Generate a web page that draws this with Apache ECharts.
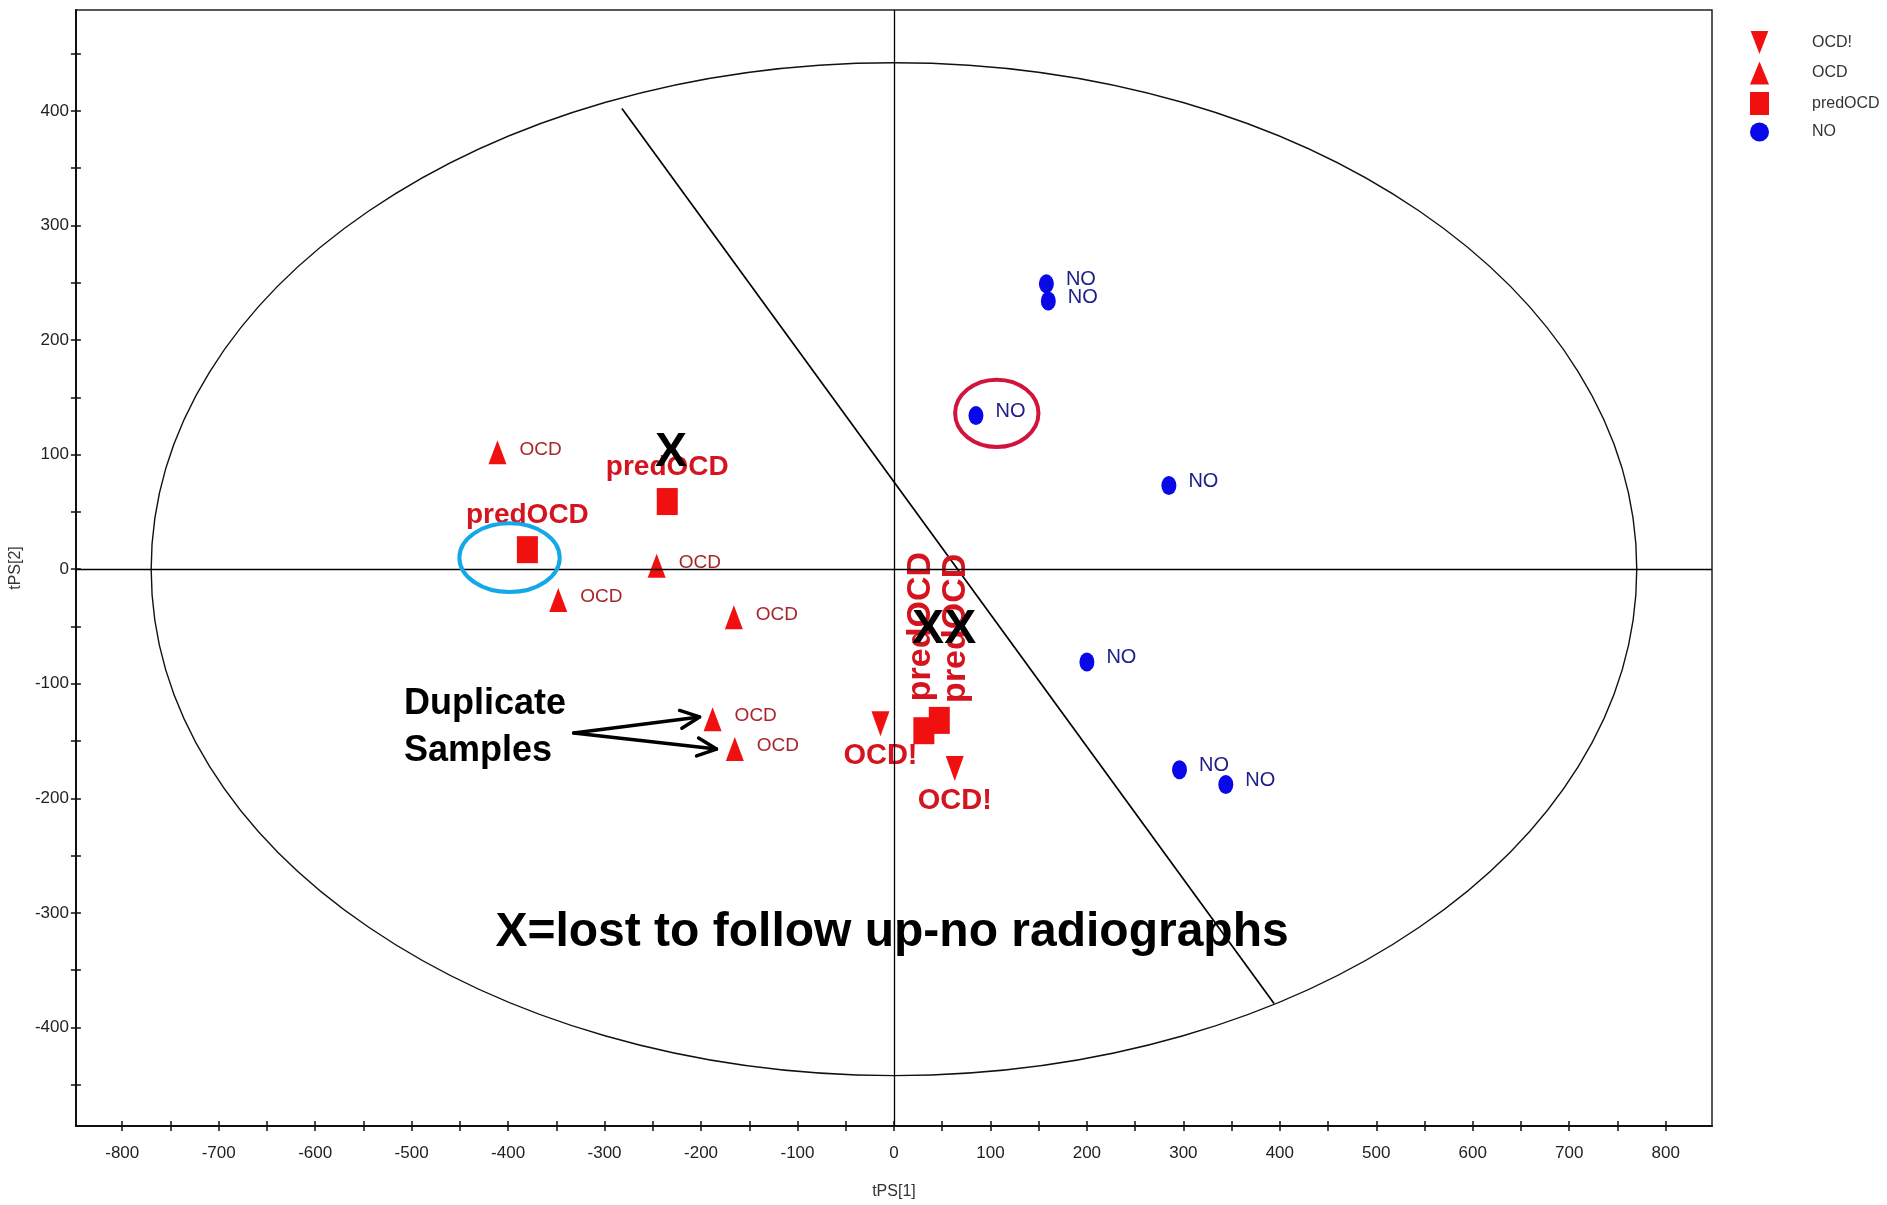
<!DOCTYPE html>
<html>
<head>
<meta charset="utf-8">
<script src="https://cdn.jsdelivr.net/npm/echarts@6/dist/echarts.min.js"></script>
<style>
html,body{margin:0;padding:0;background:#ffffff;}
#chart{width:1887px;height:1205px;}
</style>
</head>
<body>
<div id="chart"></div>
<script>
// ---------------- data ----------------
const ocdBangX = [-14, 63];
const ocdBangY = [-135, -174];
const ocdX = [-411, -246, -348, -166, -188, -165];
const ocdY = [102, 3, -27, -42, -131, -157];
const predX = [-380, -235, 31, 47];
const predY = [17, 59, -141, -132];
const noX = [158, 160, 85, 285, 200, 296, 344];
const noY = [249, 234, 134, 73, -81, -175, -188];

const xTickLabels = [-800, -700, -600, -500, -400, -300, -200, -100, 0, 100, 200, 300, 400, 500, 600, 700, 800];
const xTickMarks = [-800, -750, -700, -650, -600, -550, -500, -450, -400, -350, -300, -250, -200, -150, -100, -50, 0,
  50, 100, 150, 200, 250, 300, 350, 400, 450, 500, 550, 600, 650, 700, 750, 800];
const yTickLabels = [-400, -300, -200, -100, 0, 100, 200, 300, 400];
const yTickMarks = [-450, -400, -350, -300, -250, -200, -150, -100, -50, 0, 50, 100, 150, 200, 250, 300, 350, 400, 450];

// Hotelling ellipse semi-axes (data units)
const ellipseA = 770;
const ellipseB = 442;
// hand-drawn divider line end points (data units)
const dividerX = [-282, 394];
const dividerY = [402, -379];

// ---------------- styles ----------------
const NARROW = "'Liberation Sans Narrow','Arial Narrow','Liberation Sans',Arial,sans-serif";
const SANS = "'Liberation Sans',Arial,sans-serif";
const RED = '#f01010';
const BLUE = '#0808e8';
const BOLD_RED = '#d4141e';
const DARK_RED = '#a8262a';
const NAVY = '#202088';
const DOWN_TRI = 'path://M0,0 L20,0 L10,26 Z';

function predLabel(i) {
  const vertical = [null, null, {dy: -3, d: 16}, {dy: 16, d: 4}][i];
  if (!vertical) {
    return {show: true, position: 'top', distance: 7, formatter: '{a}',
      fontFamily: NARROW, fontWeight: 'bold', fontSize: 28, color: BOLD_RED};
  }
  return {show: true, position: 'top', distance: vertical.d, offset: [0, vertical.dy], rotate: 90,
    align: 'left', verticalAlign: 'middle', formatter: '{a}',
    fontFamily: SANS, fontWeight: 'bold', fontSize: 34, color: BOLD_RED};
}

const pairs = (xs, ys) => xs.map((x, i) => [x, ys[i]]);

const option = {
  backgroundColor: '#ffffff',
  animation: false,
  grid: {left: 73, right: 175, top: 10, bottom: 79, show: true, borderColor: '#222', borderWidth: 1.5, backgroundColor: 'transparent'},
  legend: {
    orient: 'vertical', left: 1745, top: 26, itemWidth: 19, itemHeight: 23, itemGap: 7.5,
    selectedMode: false,
    data: ['OCD!', 'OCD', 'predOCD', 'NO'],
    textStyle: {fontFamily: NARROW, fontSize: 16, color: '#333', padding: [0, 0, 0, 38]}
  },
  xAxis: [{
    type: 'value', min: -848, max: 848,
    name: 'tPS[1]', nameLocation: 'middle', nameGap: 58,
    nameTextStyle: {fontFamily: NARROW, fontSize: 16, color: '#333'},
    axisLine: {show: true, onZero: false, lineStyle: {color: '#111', width: 2}},
    axisTick: {show: true, inside: false, length: 5, customValues: xTickMarks, lineStyle: {color: '#111', width: 1.5}},
    axisLabel: {show: true, customValues: xTickLabels, margin: 19, fontFamily: NARROW, fontSize: 17, color: '#222'},
    splitLine: {show: false}
  }, {
    type: 'value', min: -848, max: 848, position: 'bottom', gridIndex: 0,
    axisLine: {show: false, onZero: false},
    axisTick: {show: true, inside: true, length: 5, customValues: xTickMarks, lineStyle: {color: '#111', width: 1.5}},
    axisLabel: {show: false},
    splitLine: {show: false}
  }],
  yAxis: [{
    type: 'value', min: -486, max: 488,
    name: 'tPS[2]', nameLocation: 'middle', nameGap: 47,
    nameTextStyle: {fontFamily: NARROW, fontSize: 16, color: '#333'},
    axisLine: {show: true, onZero: false, lineStyle: {color: '#111', width: 2}},
    axisTick: {show: true, inside: false, length: 5, customValues: yTickMarks, lineStyle: {color: '#111', width: 1.5}},
    axisLabel: {show: true, customValues: yTickLabels, margin: 7, fontFamily: NARROW, fontSize: 17, color: '#222'},
    splitLine: {show: false}
  }, {
    type: 'value', min: -486, max: 488, position: 'left', gridIndex: 0,
    axisLine: {show: false, onZero: false},
    axisTick: {show: true, inside: true, length: 5, customValues: yTickMarks, lineStyle: {color: '#111', width: 1.5}},
    axisLabel: {show: false},
    splitLine: {show: false}
  }],
  series: [
    {
      name: 'T2 ellipse', type: 'custom', coordinateSystem: 'cartesian2d', xAxisIndex: 0, yAxisIndex: 0,
      silent: true, clip: false, z: 1,
      data: [[0, 0]],
      renderItem: function (params, api) {
        const c = api.coord([api.value(0), api.value(1)]);
        const s = api.size([ellipseA, ellipseB]);
        return {type: 'ellipse', shape: {cx: c[0], cy: c[1], rx: s[0], ry: s[1]},
          style: {fill: 'none', stroke: '#111', lineWidth: 1.4}};
      }
    },
    {
      name: 'divider', type: 'line', xAxisIndex: 0, yAxisIndex: 0, silent: true, z: 2,
      data: pairs(dividerX, dividerY), showSymbol: false, symbol: 'none',
      lineStyle: {color: '#000', width: 1.7},
      markLine: {
        silent: true, symbol: 'none', label: {show: false},
        lineStyle: {color: '#000', width: 1.3, type: 'solid'},
        data: [{xAxis: 0}, {yAxis: 0}]
      }
    },
    {
      name: 'OCD!', type: 'scatter', xAxisIndex: 0, yAxisIndex: 0, z: 4,
      symbol: DOWN_TRI, symbolSize: [18, 25],
      itemStyle: {color: RED, opacity: 1},
      data: pairs(ocdBangX, ocdBangY),
      label: {show: true, position: 'bottom', distance: 5, formatter: '{a}',
        fontFamily: NARROW, fontWeight: 'bold', fontSize: 29, color: BOLD_RED}
    },
    {
      name: 'OCD', type: 'scatter', xAxisIndex: 0, yAxisIndex: 0, z: 4,
      symbol: 'triangle', symbolSize: [18, 24],
      itemStyle: {color: RED, opacity: 1},
      data: pairs(ocdX, ocdY),
      label: {show: true, position: 'right', distance: 13, offset: [0, -3], formatter: '{a}',
        fontFamily: NARROW, fontSize: 19, color: DARK_RED}
    },
    {
      name: 'predOCD', type: 'scatter', xAxisIndex: 0, yAxisIndex: 0, z: 4,
      symbol: 'rect', symbolSize: [21, 27],
      itemStyle: {color: RED, opacity: 1},
      data: predX.map((x, i) => ({value: [x, predY[i]], label: predLabel(i)}))
    },
    {
      name: 'NO', type: 'scatter', xAxisIndex: 0, yAxisIndex: 0, z: 4,
      symbol: 'circle', symbolSize: [15, 19],
      itemStyle: {color: BLUE, opacity: 1},
      data: pairs(noX, noY),
      label: {show: true, position: 'right', distance: 12, offset: [0, -4], formatter: '{a}',
        fontFamily: NARROW, fontSize: 20, color: NAVY}
    }
  ]
};

const chart = echarts.init(document.getElementById('chart'), null, {renderer: 'canvas'});
chart.setOption(option);

// ---------------- overlay annotations (anchored in data units) ----------------
const noteText = 'X=lost to follow up-no radiographs';
const noteAt = [-2, -317];
const lostMarks = [{text: 'X', at: [-231, 101.7]}, {text: 'XX', at: [52, -52.6]}];
const dupText = 'Duplicate\nSamples';
const dupAt = [-508, -138];
const dupArrowFrom = [-332, -143];
const dupArrowTo = [[-201.5, -129], [-184, -157]];
const rings = [
  {c: [-398.5, 10], r: [52, 30], color: '#14a8e8'},
  {c: [106.6, 136], r: [43.2, 29.4], color: '#d2143c'}
];

const P = (pt) => chart.convertToPixel({xAxisIndex: 0, yAxisIndex: 0}, pt);
const g = [];

rings.forEach(function (rg) {
  const c = P(rg.c);
  const e = P([rg.c[0] + rg.r[0], rg.c[1] + rg.r[1]]);
  g.push({type: 'ellipse', z: 90, silent: true,
    shape: {cx: c[0], cy: c[1], rx: Math.abs(e[0] - c[0]), ry: Math.abs(e[1] - c[1])},
    style: {fill: 'none', stroke: rg.color, lineWidth: 4}});
});

lostMarks.forEach(function (m) {
  const p = P(m.at);
  g.push({type: 'text', z: 100, silent: true, x: p[0], y: p[1],
    style: {text: m.text, fontFamily: SANS, fontWeight: 'bold', fontSize: 48, fill: '#000',
      align: 'center', verticalAlign: 'middle'}});
});

(function () {
  const p = P(noteAt);
  g.push({type: 'text', z: 100, silent: true, x: p[0], y: p[1],
    style: {text: noteText, fontFamily: SANS, fontWeight: 'bold', fontSize: 48, fill: '#000',
      align: 'center', verticalAlign: 'middle'}});
  const d = P(dupAt);
  g.push({type: 'text', z: 100, silent: true, x: d[0], y: d[1],
    style: {text: dupText, fontFamily: SANS, fontWeight: 'bold', fontSize: 36, lineHeight: 47, fill: '#000',
      align: 'left', verticalAlign: 'middle'}});
  const s = P(dupArrowFrom);
  dupArrowTo.forEach(function (to) {
    const t = P(to);
    const dx = t[0] - s[0], dy = t[1] - s[1];
    const len = Math.sqrt(dx * dx + dy * dy);
    const ux = dx / len, uy = dy / len;
    const L = 19, W = 9;
    g.push({type: 'line', z: 100, silent: true,
      shape: {x1: s[0], y1: s[1], x2: t[0], y2: t[1]},
      style: {stroke: '#000', lineWidth: 3.5, lineCap: 'round'}});
    g.push({type: 'polyline', z: 100, silent: true,
      shape: {points: [[t[0] - L * ux - W * uy, t[1] - L * uy + W * ux], [t[0], t[1]], [t[0] - L * ux + W * uy, t[1] - L * uy - W * ux]]},
      style: {fill: 'none', stroke: '#000', lineWidth: 3.5, lineCap: 'round', lineJoin: 'round'}});
  });
})();

chart.setOption({graphic: g});
</script>
</body>
</html>
